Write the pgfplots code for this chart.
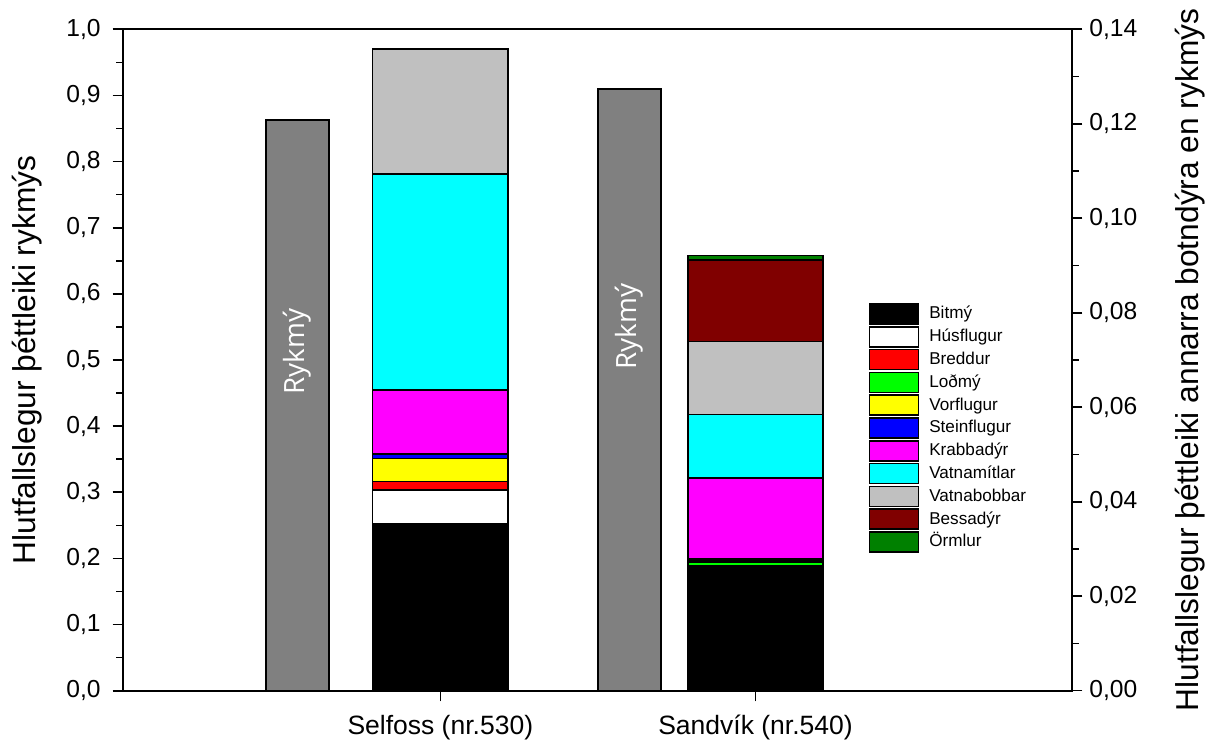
\documentclass[border=0pt]{standalone}
\usepackage{pgfplots}
\pgfplotsset{compat=1.18}
\usepackage{fontspec}
\setmainfont{Liberation Sans}
\newfontfamily\rykfont{Open Sans}
\definecolor{rgray}{RGB}{128,128,128}
\definecolor{lgray}{RGB}{192,192,192}
\definecolor{dred}{RGB}{128,0,0}
\definecolor{dgreen}{RGB}{0,128,0}
\definecolor{lgreen}{RGB}{0,255,0}
\definecolor{mag}{RGB}{255,0,255}
\definecolor{cya}{RGB}{0,255,255}
\definecolor{yel}{RGB}{255,255,0}
\definecolor{re}{RGB}{255,0,0}
\definecolor{blu}{RGB}{0,0,255}
\begin{document}
\begin{tikzpicture}
\begin{axis}[
  scale only axis, width=474.2bp, height=330.7bp,
  xmin=0, xmax=948.4, ymin=0, ymax=1,
  axis line style={line width=0.8bp},
  ytick distance=0.1, minor y tick num=1,
  tick align=outside, ytick pos=left, xtick pos=lower,
  xtick={317,632.2}, xticklabels={Selfoss (nr.530), Sandvík (nr.540)},
  major tick length=5.3bp, minor tick length=3.5bp,
  every tick/.style={line width=0.8bp, black},
  yticklabel style={font=\fontsize{12.35}{14}\selectfont, xshift=-2.5bp, /pgf/number format/.cd, fixed, fixed zerofill, precision=1, use comma, assume math mode=true},
  xticklabel style={font=\fontsize{13.3}{15}\selectfont, yshift=-3.5bp},
  ylabel={Hlutfallslegur þéttleiki rykmýs},
  ylabel style={font=\fontsize{15.9}{18}\selectfont, at={(axis description cs:-0.1015,0.5)}, anchor=center},
  ybar, bar width=63,
]
\addplot[fill=rgray, draw=black, line width=0.8bp] coordinates {(174.2,0.8629) (506.2,0.9097)};
\node[rotate=90, text=white, font=\rykfont\fontsize{14}{16}\selectfont] at (axis cs:174.2,0.5126) {Rykmý};
\node[rotate=90, text=white, font=\rykfont\fontsize{14}{16}\selectfont] at (axis cs:506.2,0.5503) {Rykmý};
\end{axis}
\begin{axis}[
  scale only axis, width=474.2bp, height=330.7bp,
  xmin=0, xmax=948.4, ymin=0, ymax=0.14,
  axis y line*=right, axis x line=none,
  axis line style={line width=0.8bp},
  ytick distance=0.02, minor y tick num=1,
  tick align=outside,
  major tick length=5.3bp, minor tick length=3.5bp,
  every tick/.style={line width=0.8bp, black},
  yticklabel style={font=\fontsize{12.35}{14}\selectfont, /pgf/number format/.cd, fixed, fixed zerofill, precision=2, use comma, assume math mode=true},
  ylabel={Hlutfallslegur þéttleiki annarra botndýra en rykmýs},
  ylabel style={font=\fontsize{15.9}{18}\selectfont, at={(axis description cs:1.1248,0.5)}, anchor=center},
  ybar stacked, bar width=135.3,
  legend image code/.code={\draw[#1, line width=0.8bp] (0bp,-5bp) rectangle (24.5bp,5bp);},
  legend cell align=left,
  legend style={draw=none, fill=none, at={(axis description cs:0.7855,0.5866)}, anchor=north west,
    font=\fontsize{8.6}{10}\selectfont, row sep=0.6bp, inner sep=0pt,
    nodes={inner sep=0pt, text height=7bp, text depth=2bp},
    /tikz/every odd column/.append style={column sep=5bp}},
]
\addplot[fill=black, draw=black, line width=0.8bp] coordinates {(317,0.03543) (632.2,0.02591)};
\addlegendentry{Bitmý}
\addplot[fill=white, draw=black, line width=0.8bp] coordinates {(317,0.00705) (632.2,0.0004)};
\addlegendentry{Húsflugur}
\addplot[fill=re, draw=black, line width=0.8bp] coordinates {(317,0.00176) (632.2,0.0002)};
\addlegendentry{Breddur}
\addplot[fill=lgreen, draw=black, line width=0.8bp] coordinates {(317,0) (632.2,0.0006)};
\addlegendentry{Loðmý}
\addplot[fill=yel, draw=black, line width=0.8bp] coordinates {(317,0.00495) (632.2,0.0004)};
\addlegendentry{Vorflugur}
\addplot[fill=blu, draw=black, line width=0.8bp] coordinates {(317,0.00091) (632.2,0.00042)};
\addlegendentry{Steinflugur}
\addplot[fill=mag, draw=black, line width=0.8bp] coordinates {(317,0.01355) (632.2,0.01714)};
\addlegendentry{Krabbadýr}
\addplot[fill=cya, draw=black, line width=0.8bp] coordinates {(317,0.04572) (632.2,0.0134)};
\addlegendentry{Vatnamítlar}
\addplot[fill=lgray, draw=black, line width=0.8bp] coordinates {(317,0.0264) (632.2,0.01545)};
\addlegendentry{Vatnabobbar}
\addplot[fill=dred, draw=black, line width=0.8bp] coordinates {(317,0) (632.2,0.0173)};
\addlegendentry{Bessadýr}
\addplot[fill=dgreen, draw=black, line width=0.8bp] coordinates {(317,0) (632.2,0.00091)};
\addlegendentry{Örmlur}
\end{axis}
\pgfresetboundingbox
\path[use as bounding box] (-61.65bp,-25.65bp) rectangle (544.35bp,345.35bp);
\end{tikzpicture}
\end{document}
